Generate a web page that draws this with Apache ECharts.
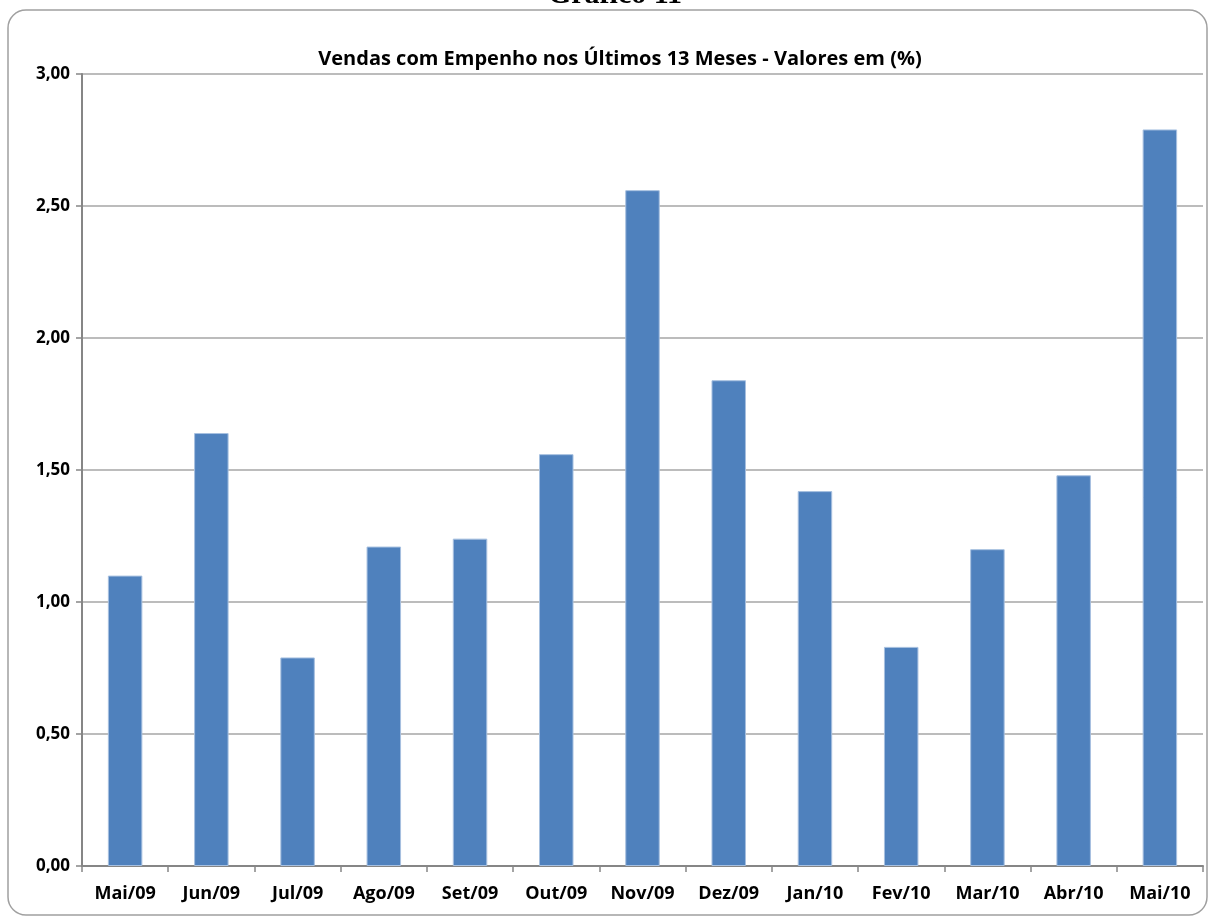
<!DOCTYPE html>
<html>

<head>
    <meta charset="utf-8">
    <script src="https://cdn.jsdelivr.net/npm/echarts@6/dist/echarts.min.js"></script>
</head>
<style type="text/css">
    body {
        margin: 0;
        background: #ffffff;
    }

    #chart {
        width: 1210px;
        height: 922px;
    }
</style>

<body>
    <div id="chart"></div>
</body>

</html>

<script type="text/javascript">
    let months = ['Mai/09', 'Jun/09', 'Jul/09', 'Ago/09', 'Set/09', 'Out/09', 'Nov/09',
        'Dez/09', 'Jan/10', 'Fev/10', 'Mar/10', 'Abr/10', 'Mai/10']
    let vendas = [1.10, 1.64, 0.79, 1.21, 1.24, 1.56, 2.56, 1.84, 1.42, 0.83, 1.20, 1.48, 2.79]

    let myChart = echarts.init(document.getElementById('chart'))

    let option = {
        animation: false,
        title: {
            text: 'Vendas com Empenho nos Últimos 13 Meses - Valores em (%)',
            left: 615,
            textAlign: 'center',
            top: 44,
            textStyle: {
                fontFamily: 'Open Sans',
                fontWeight: 'bold',
                fontSize: 20,
                color: '#000'
            }
        },
        graphic: [
            {
                type: 'rect',
                shape: { x: 8, y: 10, width: 1199, height: 905, r: 18 },
                style: { fill: 'none', stroke: '#a0a0a0', lineWidth: 1.5 },
                z: -1
            },
            {
                type: 'text',
                x: 615,
                y: 10,
                style: {
                    text: 'Gráfico 11',
                    align: 'center',
                    verticalAlign: 'bottom',
                    font: 'bold 30px "Liberation Serif"',
                    fill: '#000'
                }
            }
        ],
        grid: {
            left: 82,
            right: 7,
            top: 74,
            bottom: 56
        },
        xAxis: {
            type: 'category',
            data: months,
            axisLine: { lineStyle: { color: '#868686', width: 2 } },
            axisTick: { show: true, length: 6, lineStyle: { color: '#868686', width: 1.5 } },
            axisLabel: {
                margin: 19,
                fontFamily: 'Open Sans',
                fontWeight: 'bold',
                fontSize: 18,
                color: '#000'
            }
        },
        yAxis: {
            type: 'value',
            min: 0,
            max: 3,
            interval: 0.5,
            axisLine: { show: true, lineStyle: { color: '#868686', width: 2 } },
            axisTick: { show: true, length: 6, lineStyle: { color: '#868686', width: 1.5 } },
            splitLine: { lineStyle: { color: '#a6a6a6', width: 1.5 } },
            axisLabel: {
                margin: 12,
                formatter: v => v.toFixed(2).replace('.', ','),
                fontFamily: 'Open Sans',
                fontWeight: 'bold',
                fontSize: 17,
                color: '#000'
            }
        },
        series: [
            {
                name: 'Vendas',
                type: 'bar',
                data: vendas,
                barCategoryGap: '60%',
                itemStyle: {
                    color: '#4f81bd',
                    borderColor: '#a7c0e0',
                    borderWidth: 1
                }
            }
        ]
    }

    myChart.setOption(option)
</script>
